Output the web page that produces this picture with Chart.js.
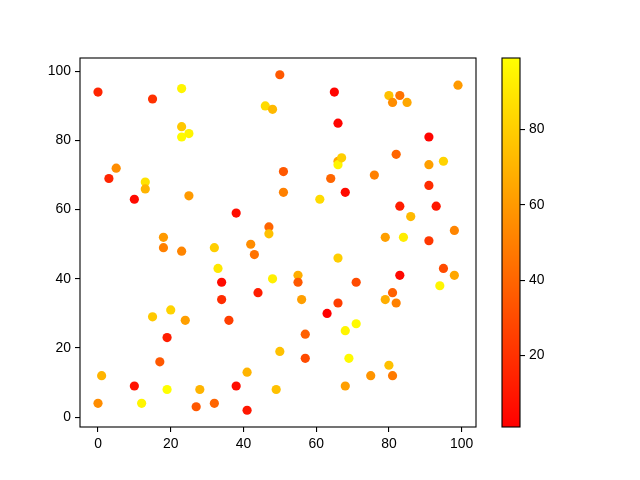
<!DOCTYPE html>
<html>
<head>
<meta charset="utf-8">
<script src="https://cdn.jsdelivr.net/npm/chart.js@4.4.1/dist/chart.umd.min.js"></script>
<style>
    html, body { margin: 0; padding: 0; background: #fff; }
    #wrap { position: relative; width: 640px; height: 480px; }
    #main { position: absolute; left: 0; top: 0; }
    #cbar { position: absolute; left: 480px; top: 0; }
</style>
</head>
<body>
<div id="wrap">
    <canvas id="main" width="640" height="480"></canvas>
    <canvas id="cbar" width="160" height="480"></canvas>
</div>
<script>
// scatter values
const xValues = [0, 15, 23, 50, 46, 48, 23, 23, 25, 5, 3, 13, 13, 10, 25, 38, 47, 47, 18, 42,
    32, 18, 23, 43, 33, 34, 48, 44, 34, 20, 15, 24, 36, 19, 50, 17, 1, 41, 10, 19,
    28, 38, 49, 0, 12, 27, 32, 41, 65, 99, 80, 83, 81, 85, 66, 91, 82, 91, 95, 51,
    66, 66, 67, 64, 76, 91, 51, 61, 68, 83, 93, 86, 98, 79, 84, 91, 66, 55, 55, 56,
    71, 83, 95, 98, 94, 81, 79, 82, 66, 63, 71, 68, 57, 57, 69, 80, 75, 81, 68];
const yValues = [94, 92, 95, 99, 90, 89, 84, 81, 82, 72, 69, 68, 66, 63, 64, 59, 55, 53, 52, 50,
    49, 49, 48, 47, 43, 39, 40, 36, 34, 31, 29, 28, 28, 23, 19, 16, 12, 13, 9, 8,
    8, 9, 8, 4, 4, 3, 4, 2, 94, 96, 93, 93, 91, 91, 85, 81, 76, 73, 74, 71,
    74, 73, 75, 69, 70, 67, 65, 63, 65, 61, 61, 58, 54, 52, 52, 51, 46, 41, 39, 34,
    39, 41, 43, 41, 38, 36, 34, 33, 33, 30, 27, 25, 24, 17, 17, 15, 12, 12, 9];
const colorValues = [15, 20, 95, 35, 85, 72, 78, 97, 95, 55, 15, 88, 70, 5, 60, 6, 40, 75, 60, 55,
    80, 50, 52, 45, 90, 5, 93, 12, 18, 82, 78, 62, 25, 12, 75, 35, 70, 70, 8, 99,
    70, 6, 75, 55, 95, 35, 40, 10, 3, 60, 75, 45, 55, 65, 3, 3, 40, 62, 82, 35,
    65, 95, 80, 40, 50, 18, 50, 85, 5, 12, 10, 72, 52, 62, 92, 22, 80, 68, 35, 62,
    30, 4, 30, 65, 95, 38, 68, 50, 25, 1, 97, 95, 38, 30, 97, 75, 58, 48, 62];
const axisTicks = [0, 20, 40, 60, 80, 100];
const colorTicks = [20, 40, 60, 80];

const cMin = Math.min(...colorValues);
const cMax = Math.max(...colorValues);

// matplotlib 'autumn': red -> yellow
function autumn(c) {
    const t = (c - cMin) / (cMax - cMin);
    return `rgb(255, ${Math.round(255 * t)}, 0)`;
}

function padRange(values) {
    const lo = Math.min(...values), hi = Math.max(...values);
    const m = (hi - lo) * 0.05;
    return [lo - m, hi + m];
}

Chart.defaults.font.family = "'Liberation Sans', Arial, sans-serif";
Chart.defaults.font.size = 13.9;
Chart.defaults.color = '#000';

const framePlugin = {
    id: 'frame',
    afterDraw(chart) {
        const { ctx, chartArea: a } = chart;
        ctx.save();
        ctx.strokeStyle = '#000';
        ctx.lineWidth = 1.1;
        ctx.strokeRect(a.left, a.top, a.right - a.left, a.bottom - a.top);
        ctx.restore();
    }
};

function tickAxis(ticks, extra) {
    return Object.assign({
        afterBuildTicks: (scale) => { scale.ticks = ticks.map(v => ({ value: v })); },
        grid: { drawOnChartArea: false, drawTicks: true, tickLength: 5, color: '#000', lineWidth: 1.1 },
        border: { display: false },
        ticks: { padding: 4, color: '#000', maxRotation: 0, autoSkip: false }
    }, extra);
}

const [xMin, xMax] = padRange(xValues);
const [yMin, yMax] = padRange(yValues);

new Chart(document.getElementById('main'), {
    type: 'scatter',
    data: {
        datasets: [{
            data: xValues.map((x, i) => ({ x: x, y: yValues[i] })),
            backgroundColor: colorValues.map(autumn),
            pointRadius: 4.6,
            pointHoverRadius: 4.6,
            borderWidth: 0
        }]
    },
    options: {
        responsive: false,
        animation: false,
        devicePixelRatio: 1,
        layout: { padding: { left: 40, right: 164, top: 58, bottom: 23 } },
        plugins: { legend: { display: false }, tooltip: { enabled: false } },
        scales: {
            x: tickAxis(axisTicks, { type: 'linear', min: xMin, max: xMax,
                afterFit: (s) => { s.height = 30; } }),
            y: tickAxis(axisTicks, { type: 'linear', min: yMin, max: yMax,
                afterFit: (s) => { s.width = 40; } })
        }
    },
    plugins: [framePlugin]
});

new Chart(document.getElementById('cbar'), {
    type: 'bar',
    data: {
        labels: [''],
        datasets: [{
            data: [[cMin, cMax]],
            backgroundColor: (ctx) => {
                const area = ctx.chart.chartArea;
                if (!area) return 'red';
                const g = ctx.chart.ctx.createLinearGradient(0, area.bottom, 0, area.top);
                g.addColorStop(0, 'rgb(255,0,0)');
                g.addColorStop(1, 'rgb(255,255,0)');
                return g;
            },
            borderWidth: 0,
            barPercentage: 1,
            categoryPercentage: 1
        }]
    },
    options: {
        responsive: false,
        animation: false,
        devicePixelRatio: 1,
        layout: { padding: { left: 22, right: 70, top: 58, bottom: 53 } },
        plugins: { legend: { display: false }, tooltip: { enabled: false } },
        scales: {
            x: { display: false },
            y: tickAxis(colorTicks, { type: 'linear', position: 'right', min: cMin, max: cMax,
                afterFit: (s) => { s.width = 50; } })
        }
    },
    plugins: [framePlugin]
});
</script>
</body>
</html>
